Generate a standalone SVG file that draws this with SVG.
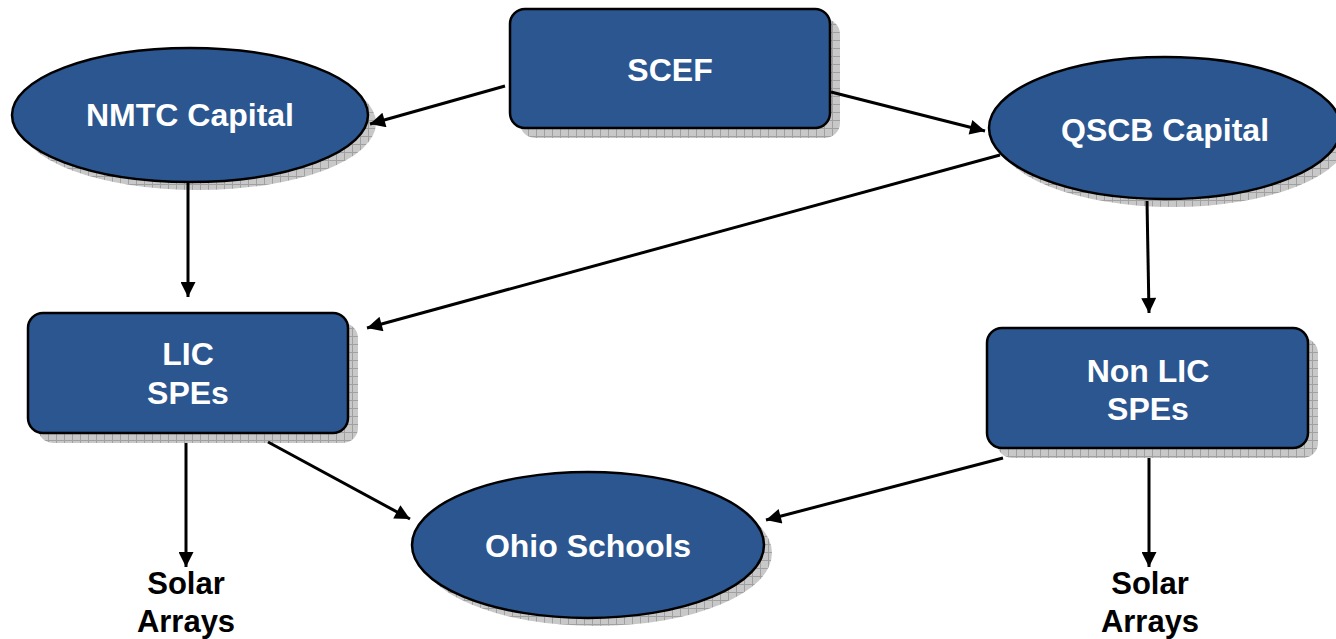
<svg xmlns="http://www.w3.org/2000/svg" width="1336" height="639" viewBox="0 0 1336 639">
<defs>
<pattern id="grid" width="8" height="8" patternUnits="userSpaceOnUse">
<rect width="8" height="8" fill="#c8c8c8"/>
<path d="M0 0.5H8M0.5 0V8" stroke="#a0a0a0" stroke-width="1"/>
</pattern>
<marker id="ah" viewBox="0 0 10 10" refX="10" refY="5" markerWidth="6.5" markerHeight="5" markerUnits="strokeWidth" orient="auto">
<path d="M0 0L10 5L0 10z" fill="#000"/>
</marker>
<style>
.shadow{fill:url(#grid);}
.node{fill:#2B5690;stroke:#000;stroke-width:2.5;}
.lbl{font-family:"Liberation Sans",Arial,sans-serif;font-weight:bold;font-size:32px;fill:#fff;text-anchor:middle;}
.blk{font-family:"Liberation Sans",Arial,sans-serif;font-weight:bold;font-size:31px;fill:#000;text-anchor:middle;}
.conn line{stroke:#000;stroke-width:3;marker-end:url(#ah);}
</style>
</defs>
<rect width="1336" height="639" fill="#fff"/>
<g id="scef">
<rect class="shadow" x="520" y="19" width="320" height="119" rx="15"/>
<rect class="node" x="510" y="9" width="320" height="119" rx="15"/>
<text class="lbl" x="670" y="81">SCEF</text>
</g>
<g id="nmtc">
<ellipse class="shadow" cx="198" cy="123" rx="178" ry="67"/>
<ellipse class="node" cx="190" cy="115" rx="178" ry="67"/>
<text class="lbl" x="190" y="126">NMTC Capital</text>
</g>
<g id="qscb">
<ellipse class="shadow" cx="1173" cy="136" rx="176" ry="71"/>
<ellipse class="node" cx="1165" cy="128" rx="176" ry="71"/>
<text class="lbl" x="1165" y="141">QSCB Capital</text>
</g>
<g id="lic">
<rect class="shadow" x="38" y="323" width="320" height="120" rx="15"/>
<rect class="node" x="28" y="313" width="320" height="120" rx="15"/>
<text class="lbl" x="188" y="365">LIC</text>
<text class="lbl" x="188" y="404">SPEs</text>
</g>
<g id="nonlic">
<rect class="shadow" x="997" y="338" width="321" height="120" rx="15"/>
<rect class="node" x="987" y="328" width="321" height="120" rx="15"/>
<text class="lbl" x="1148" y="382">Non LIC</text>
<text class="lbl" x="1148" y="420">SPEs</text>
</g>
<g id="ohio">
<ellipse class="shadow" cx="596" cy="553" rx="176" ry="73"/>
<ellipse class="node" cx="588" cy="545" rx="176" ry="73"/>
<text class="lbl" x="588" y="557">Ohio Schools</text>
</g>
<g id="solar1">
<text class="blk" x="186" y="594">Solar</text>
<text class="blk" x="186" y="632">Arrays</text>
</g>
<g id="solar2">
<text class="blk" x="1150" y="594">Solar</text>
<text class="blk" x="1150" y="632">Arrays</text>
</g>
<g class="conn" id="connectors">
<line x1="505" y1="86" x2="370" y2="124"/>
<line x1="831" y1="92" x2="985" y2="131"/>
<line x1="188" y1="183" x2="188" y2="297"/>
<line x1="1000" y1="155" x2="367" y2="328"/>
<line x1="1147" y1="201" x2="1149" y2="313"/>
<line x1="268" y1="442" x2="410" y2="519"/>
<line x1="186" y1="443" x2="186" y2="567"/>
<line x1="1003" y1="458" x2="766" y2="520"/>
<line x1="1149" y1="458" x2="1149" y2="567"/>
</g>
</svg>
